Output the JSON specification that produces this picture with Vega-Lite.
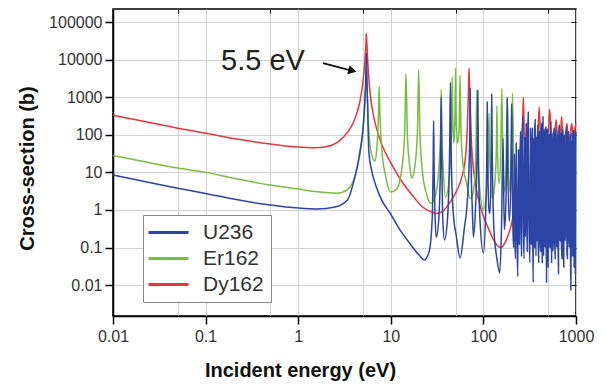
{
  "$schema": "https://vega.github.io/schema/vega-lite/v6.json",
  "width": 463,
  "height": 307,
  "autosize": "none",
  "padding": {"left": 113, "top": 9, "right": 29, "bottom": 71},
  "background": "white",
  "config": {"view": {"stroke": "black", "strokeWidth": 1.5}, "font": "Liberation Sans"},
  "data": {"values": [
    {"s":"Dy162","e":0.01,"c":330},{"s":"Dy162","e":0.02,"c":235},{"s":"Dy162","e":0.05,"c":150},{"s":"Dy162","e":0.1,"c":110},{"s":"Dy162","e":0.2,"c":80},{"s":"Dy162","e":0.5,"c":57},{"s":"Dy162","e":1,"c":47},{"s":"Dy162","e":1.5,"c":45},{"s":"Dy162","e":2,"c":48},{"s":"Dy162","e":2.7,"c":65},{"s":"Dy162","e":3.37,"c":112},{"s":"Dy162","e":4,"c":230},{"s":"Dy162","e":4.6,"c":700},{"s":"Dy162","e":5,"c":2500},{"s":"Dy162","e":5.25,"c":9000},{"s":"Dy162","e":5.38,"c":25000},{"s":"Dy162","e":5.45,"c":50000},{"s":"Dy162","e":5.52,"c":25000},{"s":"Dy162","e":5.65,"c":8000},{"s":"Dy162","e":5.9,"c":1800},{"s":"Dy162","e":6.3,"c":500},{"s":"Dy162","e":7,"c":150},{"s":"Dy162","e":8,"c":55},{"s":"Dy162","e":10,"c":18},{"s":"Dy162","e":13,"c":6},{"s":"Dy162","e":17,"c":2.5},{"s":"Dy162","e":22,"c":1.2},{"s":"Dy162","e":27,"c":0.9},{"s":"Dy162","e":31,"c":0.8},{"s":"Dy162","e":36,"c":0.9},{"s":"Dy162","e":42,"c":1.4},{"s":"Dy162","e":50,"c":2.8},{"s":"Dy162","e":58,"c":7},{"s":"Dy162","e":64,"c":25},{"s":"Dy162","e":67,"c":150},{"s":"Dy162","e":69,"c":1500},{"s":"Dy162","e":70,"c":6000},{"s":"Dy162","e":71,"c":1500},{"s":"Dy162","e":73,"c":150},{"s":"Dy162","e":76,"c":25},{"s":"Dy162","e":82,"c":5},{"s":"Dy162","e":95,"c":1},{"s":"Dy162","e":115,"c":0.3},{"s":"Dy162","e":135,"c":0.13},{"s":"Dy162","e":155,"c":0.1},{"s":"Dy162","e":175,"c":0.15},{"s":"Dy162","e":200,"c":0.4},{"s":"Dy162","e":230,"c":2.5},{"s":"Dy162","e":255,"c":25},{"s":"Dy162","e":266,"c":250},{"s":"Dy162","e":270,"c":1000},{"s":"Dy162","e":274,"c":250},{"s":"Dy162","e":285,"c":25},{"s":"Dy162","e":310,"c":5},{"s":"Dy162","e":350,"c":8},{"s":"Dy162","e":385,"c":60},{"s":"Dy162","e":400,"c":550},{"s":"Dy162","e":415,"c":60},{"s":"Dy162","e":440,"c":15},{"s":"Dy162","e":480,"c":50},{"s":"Dy162","e":505,"c":150},{"s":"Dy162","e":520,"c":480},{"s":"Dy162","e":535,"c":150},{"s":"Dy162","e":560,"c":40},{"s":"Dy162","e":590,"c":100},{"s":"Dy162","e":610,"c":250},{"s":"Dy162","e":625,"c":120},{"s":"Dy162","e":650,"c":50},{"s":"Dy162","e":690,"c":180},{"s":"Dy162","e":700,"c":300},{"s":"Dy162","e":710,"c":150},{"s":"Dy162","e":740,"c":60},{"s":"Dy162","e":780,"c":120},{"s":"Dy162","e":800,"c":200},{"s":"Dy162","e":815,"c":100},{"s":"Dy162","e":850,"c":60},{"s":"Dy162","e":880,"c":150},{"s":"Dy162","e":900,"c":200},{"s":"Dy162","e":920,"c":100},{"s":"Dy162","e":950,"c":70},{"s":"Dy162","e":975,"c":150},{"s":"Dy162","e":1000,"c":200},

    {"s":"Er162","e":0.01,"c":28},{"s":"Er162","e":0.02,"c":20},{"s":"Er162","e":0.05,"c":13},{"s":"Er162","e":0.1,"c":10},{"s":"Er162","e":0.2,"c":7},{"s":"Er162","e":0.5,"c":4.6},{"s":"Er162","e":1,"c":3.6},{"s":"Er162","e":1.5,"c":3.1},{"s":"Er162","e":2,"c":2.9},{"s":"Er162","e":2.6,"c":2.8},{"s":"Er162","e":3.4,"c":3.5},{"s":"Er162","e":4.1,"c":8},{"s":"Er162","e":4.65,"c":40},{"s":"Er162","e":5,"c":150},{"s":"Er162","e":5.3,"c":1200},{"s":"Er162","e":5.45,"c":3000},{"s":"Er162","e":5.6,"c":800},{"s":"Er162","e":5.8,"c":120},{"s":"Er162","e":6.2,"c":30},{"s":"Er162","e":6.7,"c":20},{"s":"Er162","e":7.1,"c":50},{"s":"Er162","e":7.35,"c":300},{"s":"Er162","e":7.5,"c":1900},{"s":"Er162","e":7.65,"c":300},{"s":"Er162","e":8,"c":40},{"s":"Er162","e":8.8,"c":8},{"s":"Er162","e":10,"c":3},{"s":"Er162","e":11.5,"c":3.5},{"s":"Er162","e":13,"c":10},{"s":"Er162","e":14.1,"c":100},{"s":"Er162","e":14.6,"c":4200},{"s":"Er162","e":15.1,"c":100},{"s":"Er162","e":16,"c":15},{"s":"Er162","e":16.8,"c":7},{"s":"Er162","e":18,"c":12},{"s":"Er162","e":19.4,"c":120},{"s":"Er162","e":20,"c":5200},{"s":"Er162","e":20.6,"c":120},{"s":"Er162","e":22,"c":10},{"s":"Er162","e":24,"c":3},{"s":"Er162","e":27,"c":1.5},{"s":"Er162","e":30,"c":2.2},{"s":"Er162","e":33,"c":12},{"s":"Er162","e":34.5,"c":150},{"s":"Er162","e":35,"c":1600},{"s":"Er162","e":35.5,"c":150},{"s":"Er162","e":37,"c":10},{"s":"Er162","e":39,"c":2.2},{"s":"Er162","e":43,"c":8},{"s":"Er162","e":45.3,"c":150},{"s":"Er162","e":46,"c":3500},{"s":"Er162","e":46.8,"c":200},{"s":"Er162","e":48,"c":60},{"s":"Er162","e":49.3,"c":300},{"s":"Er162","e":50,"c":6000},{"s":"Er162","e":50.7,"c":300},{"s":"Er162","e":52.5,"c":60},{"s":"Er162","e":54.8,"c":150},{"s":"Er162","e":56,"c":3900},{"s":"Er162","e":57.2,"c":150},{"s":"Er162","e":60,"c":18},{"s":"Er162","e":66,"c":5},{"s":"Er162","e":72,"c":2},{"s":"Er162","e":78,"c":3},{"s":"Er162","e":83,"c":40},{"s":"Er162","e":85,"c":1600},{"s":"Er162","e":87,"c":40},{"s":"Er162","e":92,"c":3},{"s":"Er162","e":100,"c":1},{"s":"Er162","e":108,"c":3},{"s":"Er162","e":113,"c":30},{"s":"Er162","e":115,"c":380},{"s":"Er162","e":117,"c":30},{"s":"Er162","e":125,"c":2},{"s":"Er162","e":133,"c":5},{"s":"Er162","e":138,"c":40},{"s":"Er162","e":140,"c":590},{"s":"Er162","e":142,"c":40},{"s":"Er162","e":148,"c":5},{"s":"Er162","e":154,"c":40},{"s":"Er162","e":158,"c":1700},{"s":"Er162","e":162,"c":40},{"s":"Er162","e":170,"c":3},{"s":"Er162","e":177,"c":40},{"s":"Er162","e":181,"c":950},{"s":"Er162","e":185,"c":40},{"s":"Er162","e":193,"c":3},{"s":"Er162","e":200,"c":30},{"s":"Er162","e":206,"c":1290},{"s":"Er162","e":212,"c":30},{"s":"Er162","e":222,"c":2},{"s":"Er162","e":240,"c":1},{"s":"Er162","e":260,"c":2},{"s":"Er162","e":280,"c":1},{"s":"Er162","e":300,"c":40},{"s":"Er162","e":320,"c":2},{"s":"Er162","e":400,"c":3},{"s":"Er162","e":500,"c":2},{"s":"Er162","e":700,"c":3},{"s":"Er162","e":1000,"c":2},

    {"s":"U236","e":0.01,"c":8.5},{"s":"U236","e":0.02,"c":6},{"s":"U236","e":0.05,"c":3.8},{"s":"U236","e":0.1,"c":2.75},{"s":"U236","e":0.2,"c":1.95},{"s":"U236","e":0.5,"c":1.35},{"s":"U236","e":1,"c":1.12},{"s":"U236","e":1.6,"c":1.06},{"s":"U236","e":2.5,"c":1.2},{"s":"U236","e":3.4,"c":1.85},{"s":"U236","e":4.1,"c":7.6},{"s":"U236","e":4.65,"c":33},{"s":"U236","e":5,"c":130},{"s":"U236","e":5.2,"c":500},{"s":"U236","e":5.35,"c":2500},{"s":"U236","e":5.42,"c":9000},{"s":"U236","e":5.45,"c":15000},{"s":"U236","e":5.5,"c":6000},{"s":"U236","e":5.6,"c":800},{"s":"U236","e":5.8,"c":33},{"s":"U236","e":6.2,"c":11.5},{"s":"U236","e":7,"c":4},{"s":"U236","e":8,"c":1.8},{"s":"U236","e":9.8,"c":0.83},{"s":"U236","e":12.5,"c":0.3},{"s":"U236","e":16,"c":0.13},{"s":"U236","e":20,"c":0.065},{"s":"U236","e":23,"c":0.047},{"s":"U236","e":26,"c":0.08},{"s":"U236","e":28,"c":0.6},{"s":"U236","e":28.7,"c":20},{"s":"U236","e":29,"c":235},{"s":"U236","e":29.3,"c":20},{"s":"U236","e":30,"c":0.8},{"s":"U236","e":31,"c":0.19},{"s":"U236","e":33,"c":0.6},{"s":"U236","e":34.5,"c":30},{"s":"U236","e":35,"c":1000},{"s":"U236","e":35.5,"c":30},{"s":"U236","e":36.5,"c":0.5},{"s":"U236","e":38,"c":0.16},{"s":"U236","e":41,"c":0.6},{"s":"U236","e":43.3,"c":60},{"s":"U236","e":44,"c":2500},{"s":"U236","e":44.7,"c":60},{"s":"U236","e":47,"c":1},{"s":"U236","e":51,"c":0.2},{"s":"U236","e":56,"c":0.053},{"s":"U236","e":62,"c":0.3},{"s":"U236","e":68,"c":3},{"s":"U236","e":71.2,"c":80},{"s":"U236","e":72,"c":1700},{"s":"U236","e":72.8,"c":80},{"s":"U236","e":76,"c":1},{"s":"U236","e":78,"c":0.19},{"s":"U236","e":82,"c":1},{"s":"U236","e":86,"c":60},{"s":"U236","e":87,"c":1500},{"s":"U236","e":88,"c":60},{"s":"U236","e":92,"c":0.5},{"s":"U236","e":100,"c":0.072},{"s":"U236","e":106,"c":1},{"s":"U236","e":109,"c":40},{"s":"U236","e":110,"c":740},{"s":"U236","e":111,"c":40},{"s":"U236","e":115,"c":1},{"s":"U236","e":118,"c":0.8},{"s":"U236","e":121.5,"c":40},{"s":"U236","e":123,"c":1200},{"s":"U236","e":124.5,"c":40},{"s":"U236","e":130,"c":0.3},{"s":"U236","e":140,"c":0.05},{"s":"U236","e":150,"c":0.021},{"s":"U236","e":157,"c":0.4},{"s":"U236","e":163,"c":81},{"s":"U236","e":168,"c":0.3},{"s":"U236","e":174,"c":1},{"s":"U236","e":179,"c":40},{"s":"U236","e":181,"c":950},{"s":"U236","e":183,"c":40},{"s":"U236","e":190,"c":0.5},{"s":"U236","e":197,"c":3},{"s":"U236","e":200,"c":80},{"s":"U236","e":202,"c":660},{"s":"U236","e":204,"c":60},
    {"s":"U236","e":208,"c":0.4},{"s":"U236","e":212,"c":0.1},{"s":"U236","e":216,"c":30},{"s":"U236","e":219,"c":0.2},{"s":"U236","e":222,"c":0.05},{"s":"U236","e":226,"c":60},{"s":"U236","e":230,"c":0.3},{"s":"U236","e":235,"c":0.017},{"s":"U236","e":239,"c":40},{"s":"U236","e":242,"c":0.2},{"s":"U236","e":245,"c":0.12},{"s":"U236","e":248,"c":20},{"s":"U236","e":252,"c":120},{"s":"U236","e":255,"c":0.4},{"s":"U236","e":258,"c":0.06},{"s":"U236","e":262,"c":50},{"s":"U236","e":266,"c":300},{"s":"U236","e":270,"c":0.5},{"s":"U236","e":275,"c":0.05},{"s":"U236","e":279,"c":90},{"s":"U236","e":283,"c":0.2},{"s":"U236","e":287,"c":30},{"s":"U236","e":290,"c":200},{"s":"U236","e":294,"c":0.5},{"s":"U236","e":297,"c":0.08},{"s":"U236","e":301,"c":100},{"s":"U236","e":305,"c":400},{"s":"U236","e":309,"c":1},{"s":"U236","e":313,"c":0.15},{"s":"U236","e":318,"c":0.04},{"s":"U236","e":322,"c":150},{"s":"U236","e":326,"c":0.3},{"s":"U236","e":330,"c":0.12},{"s":"U236","e":334,"c":60},{"s":"U236","e":338,"c":150},{"s":"U236","e":342,"c":0.1},{"s":"U236","e":345,"c":0.012},{"s":"U236","e":349,"c":80},{"s":"U236","e":352,"c":0.3},{"s":"U236","e":355,"c":0.1},{"s":"U236","e":358,"c":120},{"s":"U236","e":362,"c":250},{"s":"U236","e":366,"c":0.4},{"s":"U236","e":370,"c":0.06},{"s":"U236","e":374,"c":90},{"s":"U236","e":377,"c":0.15},{"s":"U236","e":380,"c":0.2},{"s":"U236","e":383,"c":60},{"s":"U236","e":386,"c":180},{"s":"U236","e":390,"c":0.2},{"s":"U236","e":395,"c":0.04},{"s":"U236","e":400,"c":100},{"s":"U236","e":405,"c":120},{"s":"U236","e":410,"c":0.15},{"s":"U236","e":415,"c":0.08},{"s":"U236","e":420,"c":150},{"s":"U236","e":425,"c":200},{"s":"U236","e":428,"c":0.3},{"s":"U236","e":432,"c":0.04},{"s":"U236","e":436,"c":80},{"s":"U236","e":440,"c":300},{"s":"U236","e":444,"c":0.2},{"s":"U236","e":448,"c":0.06},{"s":"U236","e":452,"c":140},{"s":"U236","e":456,"c":110},{"s":"U236","e":460,"c":0.1},{"s":"U236","e":465,"c":0.15},{"s":"U236","e":469,"c":100},{"s":"U236","e":472,"c":160},{"s":"U236","e":476,"c":0.3},{"s":"U236","e":480,"c":0.012},{"s":"U236","e":485,"c":120},{"s":"U236","e":490,"c":140},{"s":"U236","e":495,"c":0.12},{"s":"U236","e":500,"c":0.03},{"s":"U236","e":506,"c":90},{"s":"U236","e":512,"c":100},{"s":"U236","e":517,"c":0.2},{"s":"U236","e":522,"c":0.1},{"s":"U236","e":527,"c":130},{"s":"U236","e":533,"c":220},{"s":"U236","e":539,"c":0.3},{"s":"U236","e":545,"c":0.04},{"s":"U236","e":551,"c":100},{"s":"U236","e":557,"c":110},{"s":"U236","e":563,"c":0.08},{"s":"U236","e":570,"c":0.2},{"s":"U236","e":576,"c":120},{"s":"U236","e":582,"c":150},{"s":"U236","e":588,"c":0.2},{"s":"U236","e":595,"c":0.05},{"s":"U236","e":601,"c":110},{"s":"U236","e":607,"c":130},{"s":"U236","e":614,"c":0.3},{"s":"U236","e":620,"c":0.1},{"s":"U236","e":627,"c":100},{"s":"U236","e":633,"c":90},{"s":"U236","e":640,"c":0.12},{"s":"U236","e":647,"c":0.02},{"s":"U236","e":653,"c":120},{"s":"U236","e":660,"c":180},{"s":"U236","e":667,"c":0.2},{"s":"U236","e":675,"c":0.15},{"s":"U236","e":682,"c":90},{"s":"U236","e":690,"c":110},{"s":"U236","e":697,"c":0.12},{"s":"U236","e":705,"c":0.05},{"s":"U236","e":712,"c":130},{"s":"U236","e":720,"c":140},{"s":"U236","e":729,"c":0.1},{"s":"U236","e":738,"c":0.03},{"s":"U236","e":746,"c":90},{"s":"U236","e":755,"c":100},{"s":"U236","e":763,"c":0.15},{"s":"U236","e":772,"c":0.25},{"s":"U236","e":781,"c":110},{"s":"U236","e":790,"c":160},{"s":"U236","e":799,"c":0.08},{"s":"U236","e":808,"c":0.05},{"s":"U236","e":817,"c":100},{"s":"U236","e":826,"c":120},{"s":"U236","e":835,"c":0.3},{"s":"U236","e":845,"c":0.1},{"s":"U236","e":855,"c":100},{"s":"U236","e":865,"c":90},{"s":"U236","e":872,"c":0.1},{"s":"U236","e":880,"c":0.0074},{"s":"U236","e":885,"c":0.08},{"s":"U236","e":890,"c":70},{"s":"U236","e":897,"c":0.12},{"s":"U236","e":905,"c":110},{"s":"U236","e":912,"c":0.2},{"s":"U236","e":920,"c":0.06},{"s":"U236","e":930,"c":100},{"s":"U236","e":940,"c":130},{"s":"U236","e":948,"c":0.15},{"s":"U236","e":955,"c":0.03},{"s":"U236","e":962,"c":90},{"s":"U236","e":970,"c":100},{"s":"U236","e":978,"c":0.1},{"s":"U236","e":985,"c":0.02},{"s":"U236","e":992,"c":90},{"s":"U236","e":1000,"c":120}
  ]},
  "resolve": {"axis": {"x": "independent", "y": "independent"}},
  "layer": [
    {
      "transform": [{"filter": "datum.s === 'Dy162'"}],
      "mark": {"type": "line", "strokeWidth": 1.5, "interpolate": "monotone"},
      "encoding": {
        "x": {"field": "e", "type": "quantitative", "scale": {"type": "log", "domain": [0.01, 1000], "nice": false},
          "axis": {"values": [0.01, 0.1, 1, 10, 100, 1000], "format": "~g", "grid": true, "gridColor": "#d2d2d2", "tickSize": 8, "tickColor": "black", "tickWidth": 1.5, "domainColor": "black", "domainWidth": 1.5, "labelFontSize": 16, "labelColor": "#333", "labelPadding": 4, "labelFlush": false, "labelOverlap": false, "title": "Incident energy (eV)", "titleFontSize": 20, "titleFontWeight": "bold", "titleColor": "#111", "titleX": 187, "titleY": 54, "titleBaseline": "middle"}},
        "y": {"field": "c", "type": "quantitative", "scale": {"type": "log", "domain": [0.00151, 222000], "nice": false},
          "axis": {"values": [0.01, 0.1, 1, 10, 100, 1000, 10000, 100000], "format": "~g", "grid": true, "gridColor": "#d2d2d2", "tickSize": 8, "tickColor": "black", "tickWidth": 1.5, "domainColor": "black", "domainWidth": 1.5, "labelFontSize": 16, "labelColor": "#333", "labelPadding": 3, "labelFlush": false, "labelOverlap": false, "title": "Cross-section (b)", "titleFontSize": 20, "titleFontWeight": "bold", "titleColor": "#111", "titleX": -86, "titleY": 159, "titleBaseline": "middle", "titleAngle": -90}},
        "color": {"field": "s", "type": "nominal", "scale": {"domain": ["U236", "Er162", "Dy162"], "range": ["#2b44a6", "#78bd3c", "#e8343a"]},
          "legend": {"orient": "none", "legendX": 30, "legendY": 206, "title": null, "symbolType": "M-2.4,0H5.6", "symbolSize": 100, "symbolStrokeWidth": 3, "labelFontSize": 21, "labelColor": "#333", "strokeColor": "#888", "fillColor": "white", "padding": 7, "rowPadding": 4, "labelOffset": 32}}
      }
    },
    {
      "transform": [{"filter": "datum.s === 'Er162'"}],
      "mark": {"type": "line", "strokeWidth": 1.5, "interpolate": "monotone"},
      "encoding": {
        "x": {"field": "e", "type": "quantitative", "scale": {"type": "log", "domain": [0.01, 1000], "nice": false}, "axis": null},
        "y": {"field": "c", "type": "quantitative", "scale": {"type": "log", "domain": [0.00151, 222000], "nice": false}, "axis": null},
        "color": {"field": "s", "type": "nominal"}
      }
    },
    {
      "transform": [{"filter": "datum.s === 'U236'"}],
      "mark": {"type": "line", "strokeWidth": 1.5, "interpolate": "monotone"},
      "encoding": {
        "x": {"field": "e", "type": "quantitative", "scale": {"type": "log", "domain": [0.01, 1000], "nice": false}, "axis": null},
        "y": {"field": "c", "type": "quantitative", "scale": {"type": "log", "domain": [0.00151, 222000], "nice": false}, "axis": null},
        "color": {"field": "s", "type": "nominal"}
      }
    },
    {
      "data": {"values": [{"e": 0.417, "c": 9100, "t": "5.5 eV"}]},
      "mark": {"type": "text", "fontSize": 29, "color": "#222", "align": "center", "baseline": "middle", "font": "Liberation Sans"},
      "encoding": {
        "x": {"field": "e", "type": "quantitative", "scale": {"type": "log", "domain": [0.01, 1000], "nice": false},
          "axis": {"orient": "top", "values": [0.05, 0.5, 5, 50, 500], "labels": false, "grid": true, "gridColor": "#d2d2d2", "tickSize": -4, "tickColor": "black", "domain": false, "title": null}},
        "y": {"field": "c", "type": "quantitative", "scale": {"type": "log", "domain": [0.00151, 222000], "nice": false},
          "axis": {"orient": "right", "values": [0.01, 0.1, 1, 10, 100, 1000, 10000, 100000], "labels": false, "grid": false, "tickSize": -5, "tickColor": "black", "domain": false, "title": null}},
        "text": {"field": "t"}
      }
    },
    {
      "data": {"values": [{"e": 1.85, "c": 8100, "e2": 3.6, "c2": 5265}]},
      "mark": {"type": "rule", "strokeWidth": 1.8, "color": "#111"},
      "encoding": {
        "x": {"field": "e", "type": "quantitative", "scale": {"type": "log", "domain": [0.01, 1000], "nice": false}, "axis": null},
        "y": {"field": "c", "type": "quantitative", "scale": {"type": "log", "domain": [0.00151, 222000], "nice": false}, "axis": null},
        "x2": {"field": "e2"},
        "y2": {"field": "c2"}
      }
    },
    {
      "data": {"values": [{"e": 3.85, "c": 5040}]},
      "mark": {"type": "point", "shape": "triangle-right", "size": 90, "angle": 15, "filled": true, "color": "#111", "opacity": 1},
      "encoding": {
        "x": {"field": "e", "type": "quantitative", "scale": {"type": "log", "domain": [0.01, 1000], "nice": false}, "axis": null},
        "y": {"field": "c", "type": "quantitative", "scale": {"type": "log", "domain": [0.00151, 222000], "nice": false}, "axis": null}
      }
    }
  ]
}
